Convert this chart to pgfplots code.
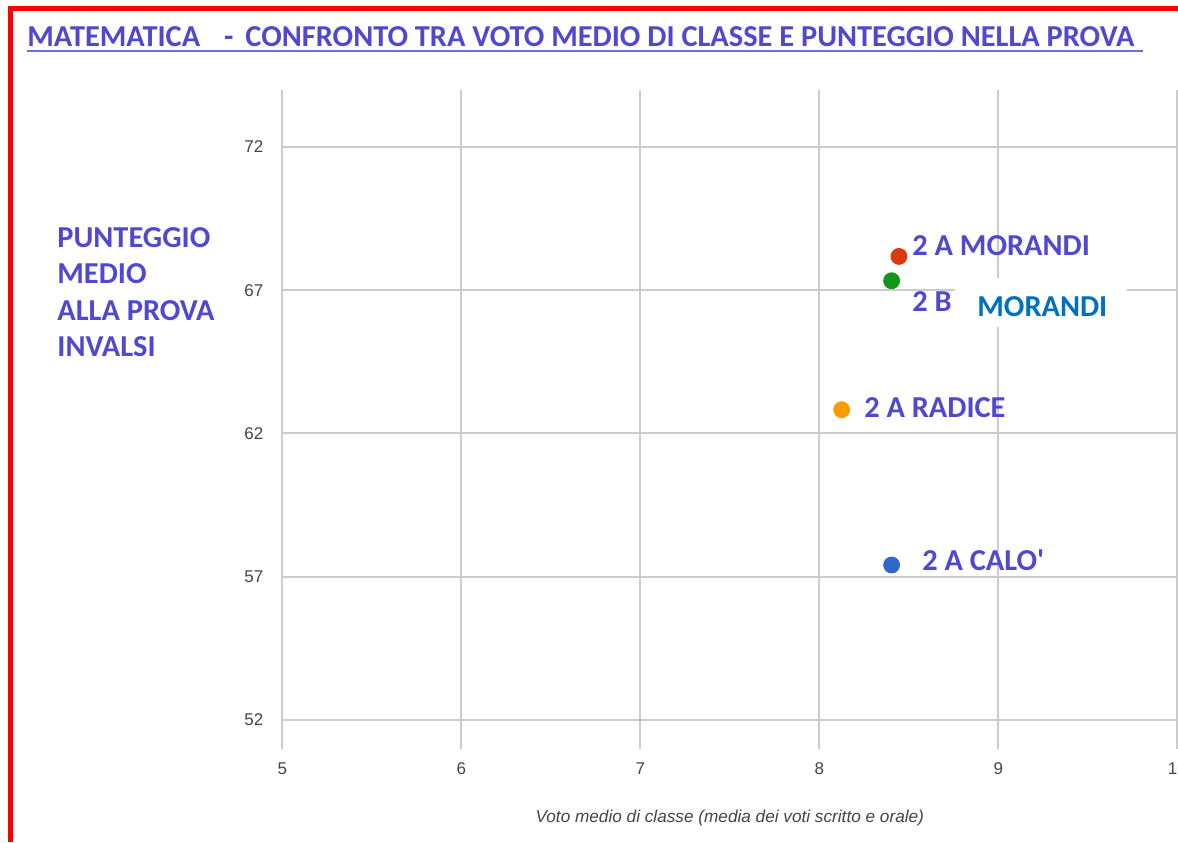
\documentclass[border=0pt]{standalone}
\usepackage{pgfplots}
\pgfplotsset{compat=1.18}
\usepackage{fontspec}
\setmainfont{Carlito}
\newfontfamily\arialf{Liberation Sans}
\definecolor{lab}{RGB}{80,72,208}
\definecolor{mblue}{RGB}{0,112,192}
\definecolor{gred}{HTML}{DC3912}
\definecolor{ggreen}{HTML}{109618}
\definecolor{gorange}{HTML}{FF9900}
\definecolor{gblue}{HTML}{3366CC}
\definecolor{gridc}{HTML}{CCCCCC}
\definecolor{tickc}{HTML}{444444}
\begin{document}
\begin{tikzpicture}[x=1pt,y=1pt]
\useasboundingbox (0,0) rectangle (589,421);
\fill[white] (0,0) rectangle (589,421);
\begin{axis}[
 at={(141.15pt,46.67pt)}, anchor=south west,
 scale only axis, width=447.5pt, height=329.5pt,
 xmin=5, xmax=10, ymin=51, ymax=74,
 xtick={5,6,7,8,9,10}, ytick={52,57,62,67,72},
 grid=major, major grid style={draw=gridc, line width=1pt},
 axis line style={draw=none}, tick style={draw=none},
 /pgf/number format/assume math mode=true,
 ticklabel style={font=\arialf\fontsize{8.5}{10}\selectfont, text=tickc},
 yticklabel style={xshift=-6pt},
 xticklabel style={yshift=-3.5pt},
 xlabel={Voto medio di classe (media dei voti scritto e orale)},
 xlabel style={font=\arialf\itshape\fontsize{8.6}{10}\selectfont, text=tickc, at={(axis description cs:0.5,0)}, anchor=center, yshift=-34.6pt},
 clip=false,
]
\addplot[only marks, mark=*, mark size=4pt, color=gred, mark options={draw=gred, fill=gred}] coordinates {(8.445,68.18)};
\addplot[only marks, mark=*, mark size=4pt, color=ggreen, mark options={draw=ggreen, fill=ggreen}] coordinates {(8.404,67.33)};
\addplot[only marks, mark=*, mark size=4pt, color=gorange, mark options={draw=gorange, fill=gorange}] coordinates {(8.125,62.83)};
\addplot[only marks, mark=*, mark size=4pt, color=gblue, mark options={draw=gblue, fill=gblue}] coordinates {(8.404,57.41)};
\fill[white] (axis cs:8.758,65.72) rectangle (axis cs:9.719,67.43);
\begin{scope}[every node/.style={anchor=west, inner sep=0pt, text=lab, font=\bfseries\fontsize{15.2}{18}\selectfont}]
\node at (axis cs:8.518,68.55) {2 A MORANDI};
\node at (axis cs:8.518,66.61) {2 B};
\node[text=mblue] at (axis cs:8.881,66.41) {MORANDI};
\node at (axis cs:8.249,62.89) {2 A RADICE};
\node at (axis cs:8.573,57.56) {2 A CALO\textquotesingle};
\end{scope}
\end{axis}
\begin{scope}[every node/.style={anchor=west, inner sep=0pt, text=lab, font=\bfseries\fontsize{15.2}{18}\selectfont}]
\node at (28.5,302.35) {PUNTEGGIO};
\node at (28.5,284) {MEDIO};
\node at (28.5,265.65) {ALLA PROVA};
\node at (28.5,247.5) {INVALSI};
\node at (13.5,402.5) {MATEMATICA\hspace{12pt}-\hspace{6pt}CONFRONTO TRA VOTO MEDIO DI CLASSE E PUNTEGGIO NELLA PROVA};
\end{scope}
\draw[lab!80, line width=1pt] (13.5,395.5) -- (571.5,395.5);
\draw[red, line width=2.5pt] (5.25,0) -- (5.25,416.75) -- (589,416.75);
\end{tikzpicture}
\end{document}
